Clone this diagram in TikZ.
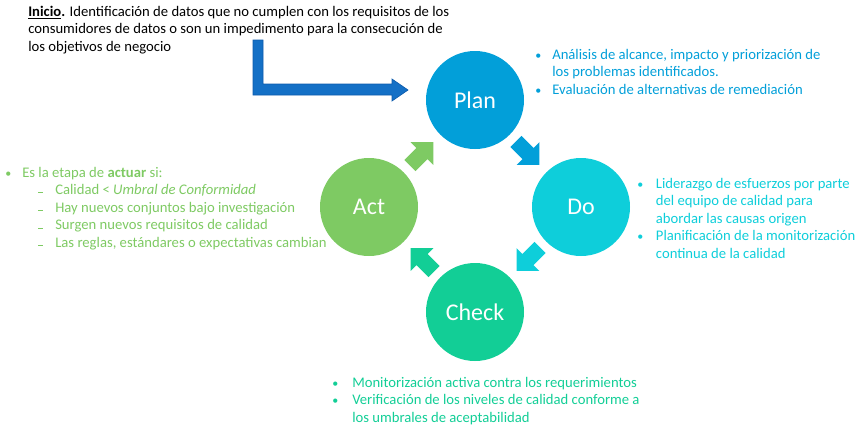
\documentclass[tikz,border=0pt]{standalone}
\usepackage{fontspec}
\setmainfont{Carlito}
\usepackage{tikz}
\usetikzlibrary{positioning, calc}
\definecolor{planblue}{RGB}{2,159,217}
\definecolor{docyan}{RGB}{14,206,218}
\definecolor{checkgreen}{RGB}{18,206,150}
\definecolor{actgreen}{RGB}{126,202,99}
\definecolor{startblue}{RGB}{20,112,198}
\definecolor{startedge}{RGB}{14,92,172}
\newcommand{\bul}{{\small\textbullet}}
\newcommand{\subdash}{\rule[0.2ex]{3.5pt}{0.6pt}}
\tikzset{
  phase/.style={circle, fill=#1, minimum size=73.5pt, inner sep=0pt,
    text=white, font=\fontsize{18}{22}\selectfont},
  notes/.style={anchor=base west, inner sep=0pt, text=#1,
    font=\fontsize{11}{13.2}\selectfont},
  pics/cyclearrow/.style={code={
    \fill[#1] (-17,-7.8) -- (0,-7.8) -- (0,-16) -- (16,0) -- (0,16)
      -- (0,7.8) -- (-17,7.8) -- cycle;}}
}

\begin{document}
\begin{tikzpicture}[x=0.75pt, y=-0.75pt]
  \useasboundingbox (0,0) rectangle (859,426);

  \node[phase=planblue] (plan) at (475,100) {Plan};
  \node[phase=docyan] (do) at (581,207) {Do};
  \node[phase=checkgreen] (check) at (475,312) {Check};
  \node[phase=actgreen] (act) at (369,207) {Act};

  \pic[rotate=-45] at ($(plan)!0.5!(do)$) {cyclearrow=planblue};
  \pic[rotate=-135] at ($(do)!0.5!(check)$) {cyclearrow=docyan};
  \pic[rotate=135] at ($(check)!0.5!(act)$) {cyclearrow=checkgreen};
  \pic[rotate=45] at ($(act)!0.5!(plan)$) {cyclearrow=actgreen};

  \node[notes=black] (intro) at (28,16)
    {\begin{tabular}[t]{@{}l@{}}
      \textbf{\underline{Inicio}.} Identificación de datos que no cumplen con los requisitos de los\\
      consumidores de datos o son un impedimento para la consecución de\\
      los objetivos de negocio
    \end{tabular}};

  \filldraw[fill=startblue, draw=startedge, line width=0.5pt]
    (253,40) -- (263,40) -- (263,84) -- (392,84) -- (392,79) -- (408,90)
    -- (392,101) -- (392,95) -- (253,95) -- cycle;

  \node[notes=planblue] (plannote) at (535,59)
    {\begin{tabular}[t]{@{}p{12.75pt}@{}l@{}}
      \bul & Análisis de alcance, impacto y priorización de\\
           & los problemas identificados.\\
      \bul & Evaluación de alternativas de remediación
    \end{tabular}};

  \node[notes=docyan] (donote) at (637,188)
    {\begin{tabular}[t]{@{}p{14pt}@{}l@{}}
      \bul & Liderazgo de esfuerzos por parte\\
           & del equipo de calidad para\\
           & abordar las causas origen\\
      \bul & Planificación de la monitorización\\
           & continua de la calidad
    \end{tabular}};

  \node[notes=checkgreen] (checknote) at (332,387)
    {\begin{tabular}[t]{@{}p{15pt}@{}l@{}}
      \bul & Monitorización activa contra los requerimientos\\
      \bul & Verificación de los niveles de calidad conforme a\\
           & los umbrales de aceptabilidad
    \end{tabular}};

  \node[notes=actgreen] (actnote) at (5,177)
    {\begin{tabular}[t]{@{}p{12.75pt}@{}p{12pt}@{}p{12.75pt}@{}l@{}}
      \bul & \multicolumn{3}{@{}l@{}}{Es la etapa de \textbf{actuar} si:}\\
           & & \subdash & Calidad < \textit{Umbral de Conformidad}\\
           & & \subdash & Hay nuevos conjuntos bajo investigación\\
           & & \subdash & Surgen nuevos requisitos de calidad\\
           & & \subdash & Las reglas, estándares o expectativas cambian
    \end{tabular}};
\end{tikzpicture}
\end{document}
